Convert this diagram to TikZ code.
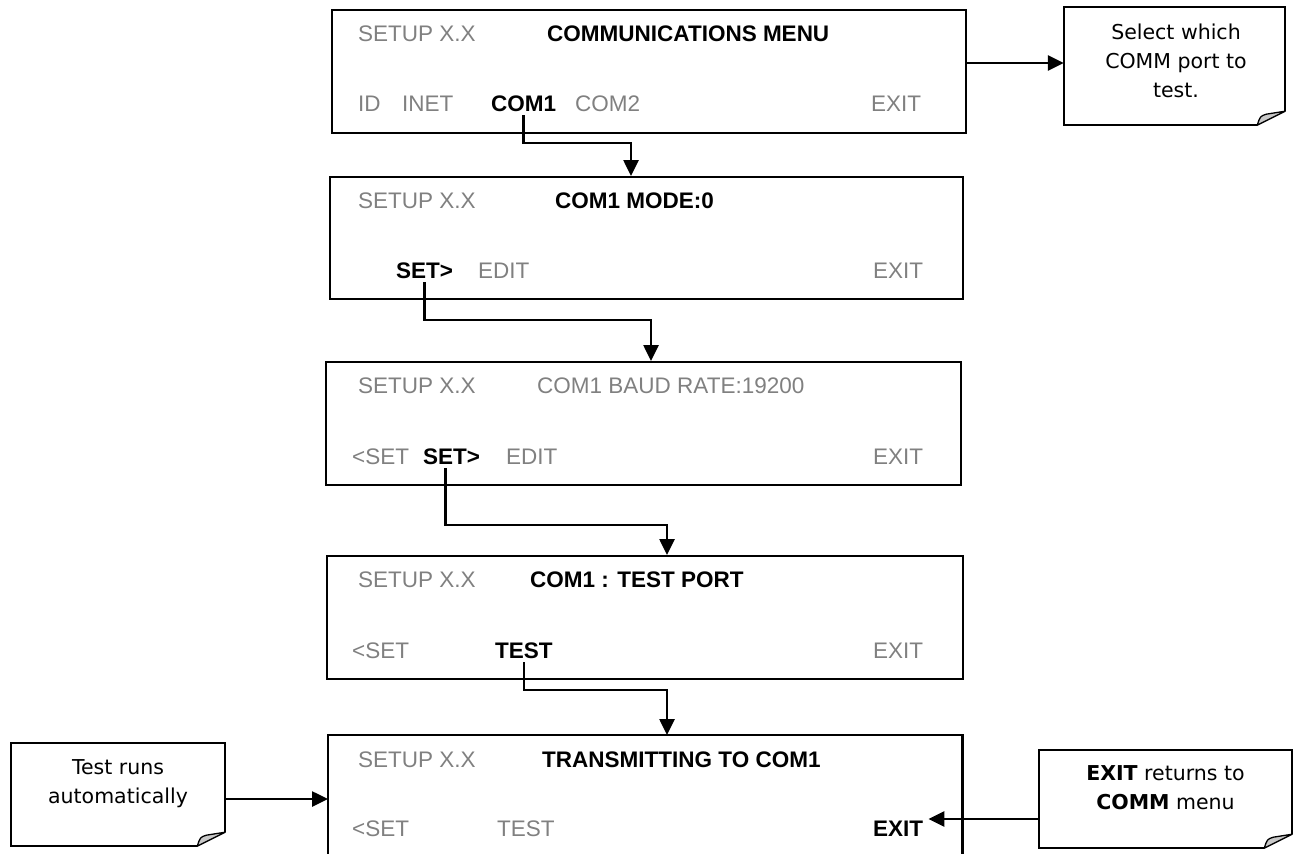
\documentclass[tikz,border=0pt]{standalone}
\usepackage{fontspec}
\setmainfont{Liberation Sans}
\newfontfamily\notefont{DejaVu Sans}
\usetikzlibrary{arrows.meta,calc}
\definecolor{dim}{RGB}{128,128,128}
\definecolor{flap}{RGB}{200,200,200}
\begin{document}
\begin{tikzpicture}[x=1pt,y=-1pt,
 screen/.style={draw=black,line width=2.2pt,inner sep=0pt,anchor=north west},
 openscreen/.style={inner sep=0pt,anchor=north west},
 dimt/.style={anchor=base west,inner sep=0pt,text=dim,font=\fontsize{22.5}{27}\selectfont},
 actt/.style={anchor=base west,inner sep=0pt,text=black,font=\fontsize{22.5}{27}\selectfont\bfseries},
 conn/.style={line width=2.6pt,line join=miter,-{Triangle[length=16pt,width=15pt]}},
 noteshape/.style={inner sep=0pt},
 notetext/.style={align=center,inner sep=0pt,font=\notefont\fontsize{20.5}{29}\selectfont},
 notebord/.style={line width=2.2pt,line join=miter},
 flapst/.style={fill=flap,draw=black,line width=1.3pt,line join=round},
]
\useasboundingbox (0,0) rectangle (1294,854);

% ---------- screens ----------
\node[screen,minimum width=634pt,minimum height=123pt] (b1) at (331,9) {};
\node[screen,minimum width=633pt,minimum height=122pt] (b2) at (329,176) {};
\node[screen,minimum width=635pt,minimum height=123pt] (b3) at (325,361) {};
\node[screen,minimum width=636pt,minimum height=123pt] (b4) at (326,555) {};
\node[openscreen,minimum width=634pt,minimum height=130pt] (b5) at (328,735) {};
\draw[line width=2.2pt,line join=miter] (b5.south west) -- (b5.north west) -- (b5.north east) -- (b5.south east);

% box 1
\node[dimt] (t1setup) at (358,41) {SETUP X.X};
\node[actt] (t1title) at (547,41) {COMMUNICATIONS MENU};
\node[dimt] (t1id) at (358,111) {ID};
\node[dimt] (t1inet) at (402,111) {INET};
\node[actt] (t1com1) at (491,111) {COM1};
\node[dimt] (t1com2) at (575,111) {COM2};
\node[dimt] (t1exit) at (871,111) {EXIT};
% box 2
\node[dimt] (t2setup) at (358,208) {SETUP X.X};
\node[actt] (t2title) at (555,208) {COM1 MODE:0};
\node[actt] (t2set) at (396,278) {SET>};
\node[dimt] (t2edit) at (478,278) {EDIT};
\node[dimt] (t2exit) at (873,278) {EXIT};
% box 3
\node[dimt] (t3setup) at (358,393) {SETUP X.X};
\node[dimt] (t3title) at (537,393) {COM1 BAUD RATE:19200};
\node[dimt] (t3prev) at (352,464) {<SET};
\node[actt] (t3set) at (423,464) {SET>};
\node[dimt] (t3edit) at (506,464) {EDIT};
\node[dimt] (t3exit) at (873,464) {EXIT};
% box 4
\node[dimt] (t4setup) at (358,587) {SETUP X.X};
\node[actt] (t4title) at (530,587) {COM1 : TEST PORT};
\node[dimt] (t4prev) at (352,658) {<SET};
\node[actt] (t4test) at (495,658) {TEST};
\node[dimt] (t4exit) at (873,658) {EXIT};
% box 5
\node[dimt] (t5setup) at (358,767) {SETUP X.X};
\node[actt] (t5title) at (542,767) {TRANSMITTING TO COM1};
\node[dimt] (t5prev) at (352,836) {<SET};
\node[dimt] (t5test) at (497,836) {TEST};
\node[actt] (t5exit) at (873,836) {EXIT};

% ---------- notes ----------
\node[noteshape,minimum width=221pt,minimum height=118pt] (n1) at (1174.5,66) {};
\node[noteshape,minimum width=214pt,minimum height=103pt] (nl) at (118,794.5) {};
\node[noteshape,minimum width=253pt,minimum height=98pt] (nr) at (1165.5,799) {};
\foreach \n in {n1,nl,nr}{
  \draw[notebord] ([xshift=-28pt]\n.south east) -- (\n.south west) -- (\n.north west) -- (\n.north east) -- ([yshift=14pt]\n.south east);
  \filldraw[flapst] ([xshift=-28pt]\n.south east) .. controls ([xshift=-25pt,yshift=9pt]\n.south east) .. ([xshift=-19pt,yshift=11pt]\n.south east) -- ([yshift=14pt]\n.south east) -- cycle;
}
\node[notetext] (n1t) at (1176,61) {Select which\\COMM port to\\test.};
\node[notetext] (nlt) at (118,784) {Test runs\\automatically};
\node[notetext] (nrt) at (1165.5,788) {\textbf{EXIT} returns to\\\textbf{COMM} menu};

% ---------- connectors ----------
\coordinate (y1) at (0,63);
\draw[conn] (b1.east |- y1) -- (n1.west |- y1);

\coordinate (k1) at (631,143);
\draw[conn] ([yshift=-4pt]t1com1.south) |- (k1) -- (k1 |- b2.north);

\coordinate (k2) at (651,320);
\draw[conn] ([yshift=-4pt]t2set.south) |- (k2) -- (k2 |- b3.north);

\coordinate (k3) at (667,525);
\draw[conn] ([xshift=-6pt,yshift=-4pt]t3set.south) |- (k3) -- (k3 |- b4.north);

\coordinate (k4) at (667,690);
\draw[conn] ([yshift=-4pt]t4test.south) |- (k4) -- (k4 |- b5.north);

\coordinate (y6) at (0,799);
\draw[conn] (nl.east |- y6) -- (b5.west |- y6);

\coordinate (y7) at (0,819);
\draw[conn] (nr.west |- y7) -- ([xshift=5pt]t5exit.east |- y7);
\end{tikzpicture}
\end{document}
